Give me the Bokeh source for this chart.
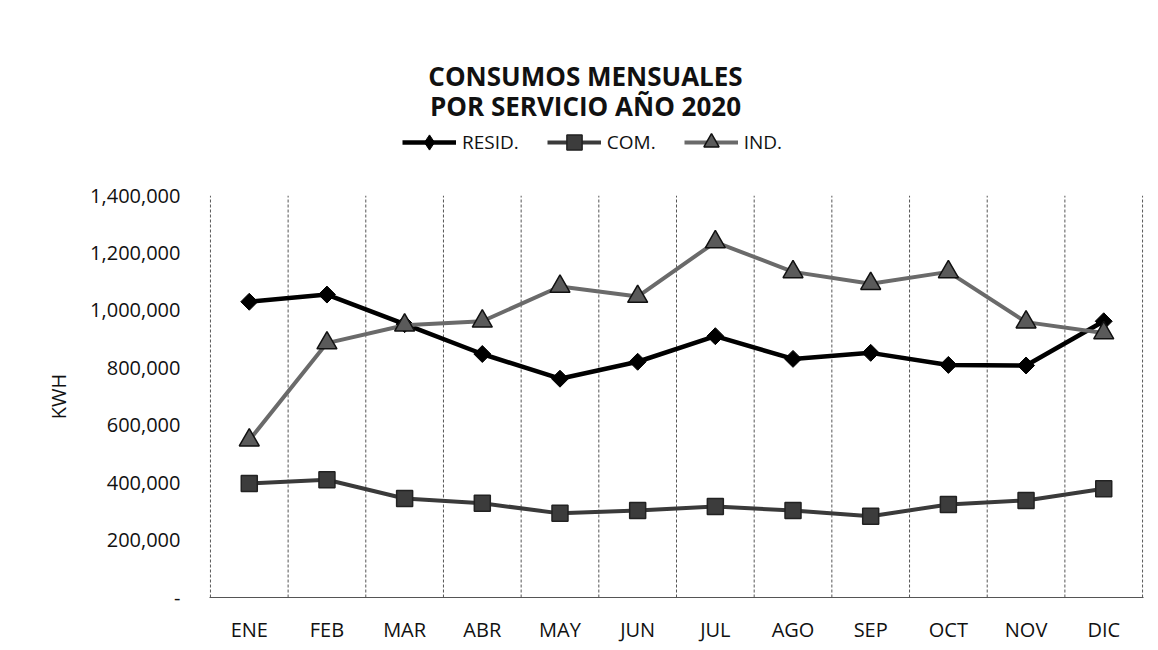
import math
from bokeh.plotting import figure
from bokeh.layouts import column
from bokeh.models import (Range1d, FixedTicker, NumeralTickFormatter, Label,
                          Legend, LegendItem)
from bokeh.embed import file_html
from bokeh.resources import INLINE

# ---- data ----
months = ["ENE", "FEB", "MAR", "ABR", "MAY", "JUN",
          "JUL", "AGO", "SEP", "OCT", "NOV", "DIC"]
resid = [1030000, 1055000, 952000, 848000, 762000, 821000,
         910000, 831000, 852000, 810000, 808000, 962000]
com = [397000, 410000, 345000, 328000, 293000, 303000,
       317000, 303000, 283000, 324000, 338000, 379000]
ind = [548000, 886000, 948000, 962000, 1083000, 1048000,
       1238000, 1134000, 1093000, 1134000, 959000, 921000]
series_names = ["RESID.", "COM.", "IND."]
title_lines = ["CONSUMOS MENSUALES", "POR SERVICIO AÑO 2020"]
y_label = "KWH"
y_ticks = [0, 200000, 400000, 600000, 800000, 1000000, 1200000, 1400000]

FONT = "Open Sans"
W = 1150
HEAD_H = 176
FRAME_LEFT = 209

styles = [
    dict(line=dict(line_color="#000000", line_width=4.5),
         marker=dict(marker="square", angle=math.pi / 4, size=12,
                     fill_color="#000000", line_color="#000000")),
    dict(line=dict(line_color="#3a3a3a", line_width=4),
         marker=dict(marker="square", size=16, fill_color="#3c3c3c",
                     line_color="#222222", line_width=1.5)),
    dict(line=dict(line_color="#6a6a6a", line_width=4),
         marker=dict(marker="triangle", size=20, fill_color="#5a5a5a",
                     line_color="#111111", line_width=1.5)),
]
# legend swatches are drawn unrotated, so use a true diamond there
legend_markers = [dict(marker="diamond", angle=0), {}, {}]
series = [resid, com, ind]

n = len(months)
x = [i + 0.5 for i in range(n)]
bounds_x = list(range(n + 1))

# ---------------- header (title + legend) ----------------
# the header's ranges keep the series out of view: only the legend shows them
head = figure(width=W, height=HEAD_H, output_backend="svg",
              toolbar_location=None, x_range=Range1d(0, n),
              y_range=Range1d(-HEAD_H, 0), min_border=0)
head.axis.visible = False
head.grid.grid_line_color = None
head.outline_line_color = None
head.background_fill_color = "white"
head.border_fill_color = "white"

items = []
for name, vals, st, lm in zip(series_names, series, styles, legend_markers):
    lr = head.line(x, vals, **st["line"])
    mr = head.scatter(x, vals, **{**st["marker"], **lm})
    items.append(LegendItem(label=name, renderers=[lr, mr]))

legend = Legend(items=items, orientation="horizontal",
                location=(402 - FRAME_LEFT, 15),
                glyph_width=54, glyph_height=38, label_height=20,
                label_standoff=6, spacing=28, padding=0, margin=0,
                border_line_color=None, background_fill_alpha=0,
                label_text_font=FONT, label_text_font_size="19px",
                label_text_color="#111111")
head.add_layout(legend)

for txt, yy in zip(title_lines, [101, 71]):
    head.add_layout(Label(x=585 - FRAME_LEFT, y=yy,
                          x_units="screen", y_units="screen",
                          text=txt, text_align="center",
                          text_baseline="middle",
                          text_font=FONT, text_font_size="26px",
                          text_font_style="bold", text_color="#111111"))

# ---------------- main chart ----------------
p = figure(width=W, height=645 - HEAD_H, output_backend="svg",
           toolbar_location=None,
           x_range=Range1d(-0.012, n + 0.012), y_range=Range1d(0, y_ticks[-1]),
           min_border_left=FRAME_LEFT, min_border_right=7, min_border_top=19,
           min_border_bottom=44)
p.outline_line_color = None
p.background_fill_color = "white"
p.border_fill_color = "white"
p.xgrid.grid_line_color = None
p.ygrid.grid_line_color = None

# vertical gridlines at category boundaries
p.segment(x0=bounds_x, y0=[0] * len(bounds_x), x1=bounds_x,
          y1=[y_ticks[-1]] * len(bounds_x), line_color="#555555",
          line_dash="3 2", line_width=1)

# x axis
p.xaxis.ticker = FixedTicker(ticks=x)
p.xaxis.major_label_overrides = {xv: m for xv, m in zip(x, months)}
p.xaxis.major_tick_line_color = None
p.xaxis.minor_tick_line_color = None
p.xaxis.axis_line_color = "#555555"
p.xaxis.axis_line_width = 1
p.xaxis.major_label_text_font = FONT
p.xaxis.major_label_text_font_size = "20px"
p.xaxis.major_label_text_color = "#111111"
p.xaxis.major_label_standoff = 12

# y axis
p.yaxis.ticker = FixedTicker(ticks=y_ticks)
p.yaxis.formatter = NumeralTickFormatter(format="0,0")
p.yaxis.major_label_overrides = {0: "-"}
p.yaxis.major_tick_line_color = None
p.yaxis.minor_tick_line_color = None
p.yaxis.axis_line_color = None
p.yaxis.major_label_text_font = FONT
p.yaxis.major_label_text_font_size = "20px"
p.yaxis.major_label_text_color = "#111111"
p.yaxis.major_label_standoff = 23
p.yaxis.axis_label = y_label
p.yaxis.axis_label_text_font = FONT
p.yaxis.axis_label_text_font_size = "20px"
p.yaxis.axis_label_text_font_style = "normal"
p.yaxis.axis_label_text_color = "#111111"
p.yaxis.axis_label_standoff = 15

# series
for vals, st in zip(series, styles):
    p.line(x, vals, **st["line"])
    p.scatter(x, vals, **st["marker"])

layout = column(head, p, spacing=0)
open("out.html", "w").write(file_html(layout, INLINE))
